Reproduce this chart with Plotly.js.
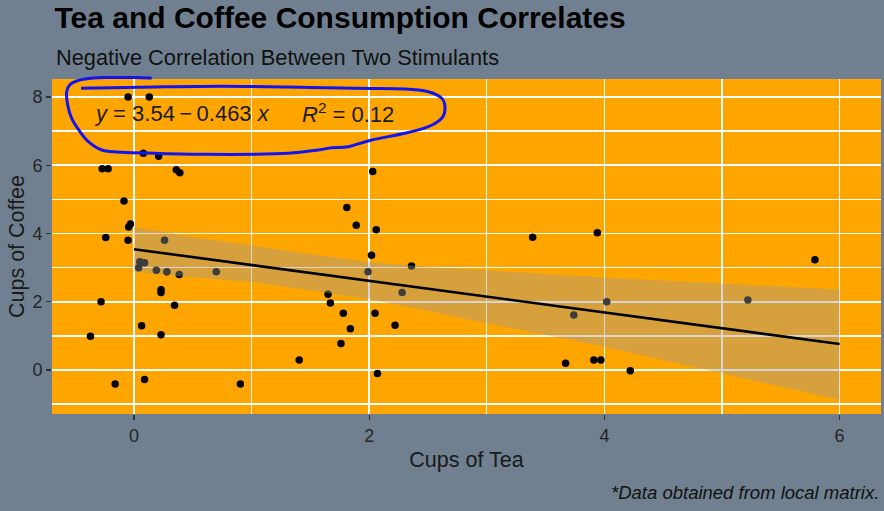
<!DOCTYPE html>
<html>
<head>
<meta charset="utf-8">
<script src="https://cdn.plot.ly/plotly-3.0.1.min.js"></script>
<style>html,body{margin:0;padding:0;background:#708090;}#chart{width:884px;height:511px;}</style>
</head>
<body>
<div id="chart"></div>
<script>
// ---- data ----
const teaCups = [-0.05,0.13,0.08,0.21,-0.27,-0.22,0.36,0.39,-0.085,-0.03,-0.045,-0.24,-0.05,0.26,0.05,0.09,0.04,0.19,0.28,0.385,0.70,0.23,0.23,-0.28,0.345,0.065,0.23,-0.37,-0.16,0.09,0.905,
  2.03,1.81,1.89,2.06,2.02,2.36,1.99,1.65,2.28,1.67,1.78,2.05,2.22,1.84,1.76,1.405,2.07,
  3.39,3.94,5.79,4.02,5.22,3.74,3.67,3.91,3.97,4.22];
const coffeeCups = [8.00,8.00,6.35,6.26,5.90,5.90,5.87,5.78,4.95,4.28,4.19,3.88,3.80,3.80,3.17,3.14,3.00,2.92,2.88,2.80,2.88,2.35,2.27,2.00,1.90,1.30,1.03,0.99,-0.41,-0.28,-0.41,
  5.82,4.76,4.24,4.11,3.36,3.05,2.88,2.22,2.27,1.96,1.66,1.66,1.31,1.21,0.78,0.29,-0.10,
  3.89,4.02,3.23,2.00,2.05,1.61,0.20,0.29,0.29,-0.02];
const fitX = [0,0.5,1,1.5,2,2.5,3,3.5,4,4.5,5,5.5,6];
const fitY = [3.54,3.31,3.08,2.85,2.61,2.38,2.15,1.92,1.69,1.46,1.23,0.99,0.76];
const bandUpper = [4.19,3.90,3.65,3.39,3.17,3.02,2.92,2.81,2.71,2.62,2.53,2.45,2.36];
const bandLower = [2.87,2.72,2.58,2.33,2.07,1.74,1.37,1.03,0.68,0.30,-0.10,-0.49,-0.88];
const xTicks = [0,2,4,6];
const yTicks = [0,2,4,6,8];
const eqText = "<i>y</i> = 3.54\u2009\u2212\u20090.463 <i>x</i>";
const r2Text = "<i>R</i><sup>2</sup> = 0.12";
// hand-drawn blue marker stroke (pixel positions on the page)
const strokePx = [[151.7,78],[135,77.5],[105,77.5],[85,79],[71.7,83.3],[66.7,91.7],[67.7,105],[71.7,118.3],[80,131.7],[88.3,141.7],[101.7,150],[121.7,152.3],[155,153.3],[205,154.3],[255,154.3],[288.3,153.3],[318.3,150],[331.7,147.7],[348.3,146.7],[371.7,140],[405,133.3],[428.3,126.7],[441.7,118.3],[445,108.3],[441.7,98.3],[428.3,91.7],[405,89],[355,88.3],[288.3,87],[221.7,86.3],[155,87],[81,88.3]];

const L = 52, R = 3, T = 79, B = 97, W = 884, H = 511;
const pw = W - L - R, ph = H - T - B;
function toPaper(p){ return [(p[0]-L)/pw, (T+ph-p[1])/ph]; }
function strokePath(pts){
  const P = pts.map(toPaper);
  let d = "M" + P[0][0] + "," + P[0][1];
  for (let i=0;i<P.length-1;i++){
    const p0 = P[Math.max(i-1,0)], p1 = P[i], p2 = P[i+1], p3 = P[Math.min(i+2,P.length-1)];
    const c1 = [p1[0]+(p2[0]-p0[0])/6, p1[1]+(p2[1]-p0[1])/6];
    const c2 = [p2[0]-(p3[0]-p1[0])/6, p2[1]-(p3[1]-p1[1])/6];
    d += " C"+c1[0]+","+c1[1]+" "+c2[0]+","+c2[1]+" "+p2[0]+","+p2[1];
  }
  return d;
}

const font = "Liberation Sans, Arial, sans-serif";
const traces = [
  {type:"scatter", mode:"markers", x:teaCups, y:coffeeCups,
   marker:{color:"#000000", size:7.5}, hoverinfo:"skip", showlegend:false},
  {type:"scatter", mode:"lines", x:fitX.concat(fitX.slice().reverse()),
   y:bandUpper.concat(bandLower.slice().reverse()), fill:"toself",
   fillcolor:"rgba(153,153,153,0.4)", line:{width:0}, hoverinfo:"skip", showlegend:false},
  {type:"scatter", mode:"lines", x:fitX, y:fitY, line:{color:"#000000", width:2.6},
   hoverinfo:"skip", showlegend:false}
];

const layout = {
  width:W, height:H,
  margin:{l:L, r:R, t:T, b:B},
  paper_bgcolor:"#708090", plot_bgcolor:"#FFA500",
  font:{family:font, color:"#262626"},
  title:{text:"<b>Tea and Coffee Consumption Correlates</b>", font:{size:30, color:"#000000", family:font},
         x:0.003, xref:"paper", xanchor:"left", y:1-7/H, yref:"container", yanchor:"top"},
  xaxis:{range:[-0.697,6.352], tickvals:xTicks, ticktext:xTicks.map(String),
         showgrid:true, gridcolor:"#FFFFFF", gridwidth:1.6, zeroline:false, showline:false,
         ticks:"outside", ticklen:5, tickwidth:1.3, tickcolor:"#333333",
         tickfont:{size:18, color:"#262626"},
         minor:{dtick:1, tick0:0, showgrid:true, gridcolor:"#FFFFFF", gridwidth:1.3, ticks:""},
         title:{text:"Cups of Tea", font:{size:21.5, color:"#1a1a1a"}, standoff:7}},
  yaxis:{range:[-1.289,8.527], tickvals:yTicks, ticktext:yTicks.map(String),
         showgrid:true, gridcolor:"#FFFFFF", gridwidth:1.6, zeroline:false, showline:false,
         ticks:"outside", ticklen:5, tickwidth:1.3, tickcolor:"#333333",
         tickfont:{size:18, color:"#262626"},
         minor:{dtick:1, tick0:0, showgrid:true, gridcolor:"#FFFFFF", gridwidth:1.3, ticks:""},
         title:{text:"Cups of Coffee", font:{size:21.5, color:"#1a1a1a"}, standoff:1}},
  annotations:[
    {text:"Negative Correlation Between Two Stimulants", xref:"paper", yref:"paper",
     x:0.003, xanchor:"left", y:(T+ph-58)/ph, yanchor:"middle", showarrow:false,
     font:{size:21.8, color:"#111111"}},
    {text:"<i>*Data obtained from local matrix.</i>", xref:"paper", yref:"paper",
     x:1, xanchor:"right", y:(T+ph-492)/ph, yanchor:"middle", showarrow:false,
     font:{size:18.5, color:"#111111"}},
    {text:eqText, xref:"x", yref:"y", x:-0.345, xanchor:"left", y:7.53, yanchor:"middle",
     showarrow:false, borderpad:0, font:{size:22, color:"#1a1a1a"}},
    {text:r2Text, xref:"x", yref:"y", x:1.422, xanchor:"left", y:7.53, yanchor:"middle",
     showarrow:false, borderpad:0, font:{size:22, color:"#1a1a1a"}}
  ],
  shapes:[
    {type:"path", xref:"paper", yref:"paper", path:strokePath(strokePx),
     line:{color:"rgb(20,20,240)", width:3}, layer:"above"}
  ]
};

Plotly.newPlot("chart", traces, layout, {staticPlot:true, displayModeBar:false});
</script>
</body>
</html>
